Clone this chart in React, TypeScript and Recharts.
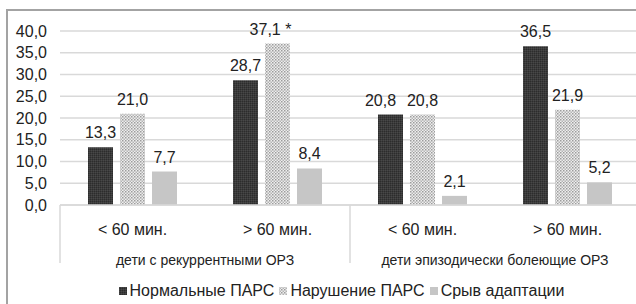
import React from 'react';
import { BarChart, Bar, XAxis, YAxis, CartesianGrid, LabelList, Legend } from 'recharts';

const subCategories = ['< 60 мин.', '> 60 мин.', '< 60 мин.', '> 60 мин.'];
const groups = [
  'дети с рекуррентными ОРЗ',
  'дети с рекуррентными ОРЗ',
  'дети эпизодически болеющие ОРЗ',
  'дети эпизодически болеющие ОРЗ',
];
const normalPars = [13.3, 28.7, 20.8, 36.5];
const violatedPars = [21.0, 37.1, 20.8, 21.9];
const adaptationFailure = [7.7, 8.4, 2.1, 5.2];
const violatedMarks = ['', '*', '', ''];
const seriesNames = ['Нормальные ПАРС', 'Нарушение ПАРС', 'Срыв адаптации'];
const yTicks = [0, 5, 10, 15, 20, 25, 30, 35, 40];

const fmt = (v: number) => v.toFixed(1).replace('.', ',');

const data = subCategories.map((sub, i) => ({
  sub,
  group: groups[i],
  normal: normalPars[i],
  violated: violatedPars[i],
  failure: adaptationFailure[i],
  normalLabel: fmt(normalPars[i]),
  violatedLabel: fmt(violatedPars[i]) + (violatedMarks[i] ? '\u00A0' + violatedMarks[i] : ''),
  failureLabel: fmt(adaptationFailure[i]),
}));

const FONT = '"Liberation Sans", Arial, Helvetica, sans-serif';
const TEXT = '#222';
const GRID = '#d9d9d9';
const CHART_W = 666;
const CHART_H = 300;
const MARGIN = { top: 20, right: 34, left: 0, bottom: 18 };
const Y_W = 52;
const BAND = (CHART_W - MARGIN.left - MARGIN.right - Y_W) / subCategories.length;

const fills = ['url(#darkPat)', 'url(#dotPat)', '#c6c6c6'];

const GroupTick = (props: any) => {
  const { x, y, index, payload } = props;
  const top = y - 36;
  const bottom = y + 22;
  const els: any[] = [];
  if (index === 0 || index === 2) {
    els.push(<line key="l" x1={x - BAND / 2} x2={x - BAND / 2} y1={top} y2={bottom} stroke={GRID} strokeWidth={1.5} />);
    els.push(
      <text key="t" x={x + BAND / 2} y={y + 19} textAnchor="middle" dominantBaseline="central" fontSize={14} fill={TEXT} fontFamily={FONT}>
        {payload.value}
      </text>
    );
  }
  if (index === subCategories.length - 1) {
    els.push(<line key="r" x1={x + BAND / 2} x2={x + BAND / 2} y1={top} y2={bottom} stroke={GRID} strokeWidth={1.5} />);
  }
  return <g>{els}</g>;
};

// label drawn above a bar; shiftFor nudges a label sideways where neighbours would collide
const makeLabel = (shiftFor: (i: number) => number) => (props: any) => {
  const { x, y, width, value, index } = props;
  return (
    <text x={x + width / 2 + shiftFor(index)} y={y - 9} textAnchor="middle" fontSize={16} fill={TEXT} fontFamily={FONT}>
      {value}
    </text>
  );
};

const normalLabel = makeLabel((i) => (normalPars[i] === violatedPars[i] ? -10 : 0));
const violatedLabel = makeLabel((i) => (violatedMarks[i] ? -7 : 0));
const failureLabel = makeLabel(() => 0);

const LegendContent = () => (
  <div style={{ display: 'flex', justifyContent: 'center', alignItems: 'center', height: 22, lineHeight: '22px', fontFamily: FONT, fontSize: 16, color: TEXT }}>
    {seriesNames.map((n, i) => (
      <span key={n} style={{ display: 'flex', alignItems: 'center', marginRight: i < 2 ? 4 : 0 }}>
        <svg width={10} height={10} style={{ marginRight: 2 }}>
          <rect x={1} y={1} width={8} height={8} fill={fills[i]} />
        </svg>
        {n}
      </span>
    ))}
  </div>
);

export default function App() {
  return (
    <div style={{ position: 'absolute', left: 0, top: 0, width: 636, height: 304, overflow: 'hidden', background: '#fff' }}>
      <div style={{ position: 'absolute', left: 6, top: 9, width: CHART_W, height: CHART_H, border: '2px solid #a3a3a3' }}>
        <BarChart width={CHART_W} height={CHART_H} data={data} margin={MARGIN} barSize={25} barGap={7}>
          <defs>
            <pattern id="dotPat" width={3} height={3} patternUnits="userSpaceOnUse">
              <rect width={3} height={3} fill="#eeeeee" />
              <rect x={0} y={0} width={1.5} height={1.5} fill="#9c9c9c" />
              <rect x={1.5} y={1.5} width={1.5} height={1.5} fill="#b4b4b4" />
            </pattern>
            <pattern id="darkPat" width={2} height={2} patternUnits="userSpaceOnUse">
              <rect width={2} height={2} fill="#3a3a3a" />
              <rect x={0} y={0} width={1} height={1} fill="#2c2c2c" />
              <rect x={1} y={1} width={1} height={1} fill="#484848" />
            </pattern>
          </defs>
          <CartesianGrid vertical={false} stroke={GRID} strokeWidth={1.5} />
          <XAxis
            dataKey="sub"
            height={36}
            tickSize={0}
            tickMargin={19}
            tickLine={false}
            axisLine={{ stroke: GRID, strokeWidth: 1.5 }}
            interval={0}
            tick={{ fontSize: 16, fill: TEXT, fontFamily: FONT }}
          />
          <XAxis
            xAxisId="grp"
            dataKey="group"
            height={30}
            tickSize={0}
            tickMargin={0}
            tickLine={false}
            axisLine={false}
            interval={0}
            allowDuplicatedCategory={true}
            tick={<GroupTick />}
          />
          <YAxis
            width={Y_W}
            domain={[0, 40]}
            ticks={yTicks}
            interval={0}
            tickFormatter={fmt}
            axisLine={false}
            tickLine={false}
            tickSize={0}
            tickMargin={13}
            tick={{ fontSize: 16, fill: TEXT, fontFamily: FONT }}
          />
          <Legend content={<LegendContent />} verticalAlign="bottom" wrapperStyle={{ top: 269, left: 0, width: CHART_W }} />
          <Bar dataKey="normal" name={seriesNames[0]} fill={fills[0]} isAnimationActive={false}>
            <LabelList dataKey="normalLabel" position="top" content={normalLabel} />
          </Bar>
          <Bar dataKey="violated" name={seriesNames[1]} fill={fills[1]} isAnimationActive={false}>
            <LabelList dataKey="violatedLabel" position="top" content={violatedLabel} />
          </Bar>
          <Bar dataKey="failure" name={seriesNames[2]} fill={fills[2]} isAnimationActive={false}>
            <LabelList dataKey="failureLabel" position="top" content={failureLabel} />
          </Bar>
        </BarChart>
      </div>
    </div>
  );
}
